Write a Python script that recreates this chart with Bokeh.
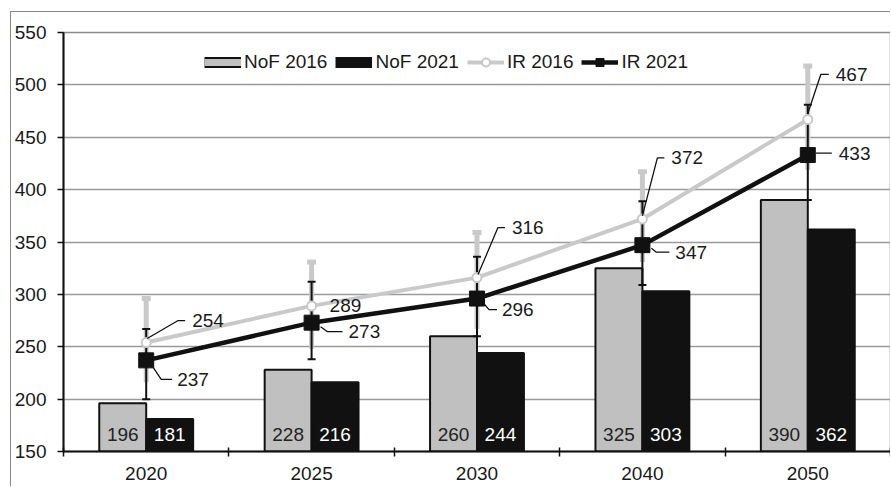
from bokeh.plotting import figure
from bokeh.models import Range1d, FixedTicker, Legend, LegendItem
from bokeh.core.properties import value
from bokeh.embed import file_html
from bokeh.resources import INLINE

# ---- data -------------------------------------------------------------
years = ["2020", "2025", "2030", "2040", "2050"]
nof_2016 = [196, 228, 260, 325, 390]
nof_2021 = [181, 216, 244, 303, 362]
ir_2016 = [254, 289, 316, 372, 467]
ir_2021 = [237, 273, 296, 347, 433]
ir_2016_hi = [296, 331, 359, 417, 518]
ir_2016_lo = [216, 248, 267, 331, 419]
ir_2021_hi = [267, 312, 336, 389, 481]
ir_2021_lo = [200, 238, 260, 309, 390]
y_ticks = [150, 200, 250, 300, 350, 400, 450, 500, 550]

# ---- layout constants ---------------------------------------------------
FONT = "Liberation Sans"
FS = "19px"
Y0, Y1 = 150, 550
FRAME_W, FRAME_H = 828, 419
PX_X = FRAME_W / len(years)      # pixels per category
PX_Y = FRAME_H / (Y1 - Y0)       # pixels per value unit
BAR_W = 47 / PX_X
GRAY = "#c0c0c0"
LGRAY = "#c9c9c9"
INK = "#111111"

centers = [i + 0.5 for i in range(len(years))]

# label placement (screen px relative to the point, y grows downward)
lab16 = [(46, -22), (18, 0), (35, -50), (29, -61), (28, -45)]
lead16 = [[(1, -4), (32, -22), (39, -22)], None,
          [(1, -3), (21, -50), (28, -50)],
          [(0, -3), (15, -61), (22, -61)],
          [(0, -6), (13, -45), (21, -45)]]
lab21 = [(31, 19), (37, 9), (25, 11), (33, 7), (31, -2)]
lead21 = [[(7, 7), (15, 19), (26, 19)],
          [(9, 4), (16, 9), (31, 9)],
          [(7, 5), (12, 11), (20, 11)],
          [(9, 3), (14, 7), (27, 7)],
          [(8, -2), (24, -2)]]


def to_data(cx, cy, dx, dy):
    return cx + dx / PX_X, cy - dy / PX_Y


p = figure(width=880, height=475,
           x_range=Range1d(0, len(years)), y_range=Range1d(Y0, Y1),
           output_backend="svg", toolbar_location=None,
           min_border_left=51, min_border_right=1,
           min_border_top=20, min_border_bottom=36)
p.styles = {"margin-left": "10px", "margin-top": "11px",
            "border-left": "1px solid #8a8a8a",
            "border-top": "1px solid #8a8a8a"}
p.background_fill_color = "white"
p.border_fill_color = "white"
p.outline_line_color = "#8a8a8a"
p.outline_line_width = 1.5

# axes
p.xaxis.ticker = FixedTicker(ticks=centers, minor_ticks=list(range(len(years) + 1)))
p.xaxis.major_label_overrides = {c: y for c, y in zip(centers, years)}
p.xaxis.major_tick_out = 0
p.xaxis.major_tick_in = 0
p.xaxis.minor_tick_out = 5
p.xaxis.minor_tick_in = 4
p.xaxis.minor_tick_line_color = INK
p.xaxis.minor_tick_line_width = 1.5
p.xaxis.major_label_standoff = 10
p.yaxis.ticker = FixedTicker(ticks=y_ticks)
p.yaxis.major_tick_out = 6
p.yaxis.major_tick_in = 0
p.yaxis.minor_tick_line_color = None
p.yaxis.major_label_standoff = 11
for ax in (p.xaxis, p.yaxis):
    ax.axis_line_color = INK
    ax.axis_line_width = 2
    ax.major_tick_line_color = INK
    ax.major_tick_line_width = 1.5
    ax.major_label_text_font = FONT
    ax.major_label_text_font_size = FS
    ax.major_label_text_color = "#1a1a1a"
p.xgrid.grid_line_color = None
p.ygrid.ticker = FixedTicker(ticks=y_ticks)
p.ygrid.grid_line_color = "#9a9a9a"
p.ygrid.grid_line_width = 1.5

# bars
x16 = [c - BAR_W / 2 for c in centers]
x21 = [c + BAR_W / 2 for c in centers]
p.vbar(x=x16, top=nof_2016, bottom=Y0, width=BAR_W, fill_color=GRAY,
       line_color=INK, line_width=2)
p.vbar(x=x21, top=nof_2021, bottom=Y0, width=BAR_W, fill_color=INK,
       line_color=INK, line_width=2)
ylab = Y0 + 17 / PX_Y
p.text(x=x16, y=[ylab] * len(years), text=[str(v) for v in nof_2016],
       text_font=value(FONT), text_font_size=FS, text_color="#222222",
       text_align="center", text_baseline="middle")
p.text(x=x21, y=[ylab] * len(years), text=[str(v) for v in nof_2021],
       text_font=value(FONT), text_font_size=FS, text_color="white",
       text_align="center", text_baseline="middle")

# error bars
cap16 = 9 / PX_X
cap21 = 8 / PX_X
p.segment(x0=centers, y0=ir_2016_lo, x1=centers, y1=ir_2016_hi,
          line_color=LGRAY, line_width=5)
p.segment(x0=[c - cap16 / 2 for c in centers], y0=ir_2016_hi,
          x1=[c + cap16 / 2 for c in centers], y1=ir_2016_hi,
          line_color=LGRAY, line_width=5)
p.segment(x0=centers, y0=ir_2021_lo, x1=centers, y1=ir_2021_hi,
          line_color=INK, line_width=2)
p.segment(x0=[c - cap21 / 2 for c in centers], y0=ir_2021_hi,
          x1=[c + cap21 / 2 for c in centers], y1=ir_2021_hi,
          line_color=INK, line_width=2)
p.segment(x0=[c - cap21 / 2 for c in centers], y0=ir_2021_lo,
          x1=[c + cap21 / 2 for c in centers], y1=ir_2021_lo,
          line_color=INK, line_width=2)

# lines
l16 = p.line(centers, ir_2016, line_color=LGRAY, line_width=4)
m16 = p.scatter(centers, ir_2016, marker="circle", size=9,
                fill_color="white", line_color=LGRAY, line_width=2)
l21 = p.line(centers, ir_2021, line_color=INK, line_width=4.5)
m21 = p.scatter(centers, ir_2021, marker="square", size=15,
                fill_color=INK, line_color=INK)

# value labels with leader lines
lx, ly, lt = [], [], []
mxs, mys = [], []
for series, labs, leads in ((ir_2016, lab16, lead16), (ir_2021, lab21, lead21)):
    for c, v, (dx, dy), lead in zip(centers, series, labs, leads):
        tx, ty = to_data(c, v, dx, dy)
        lx.append(tx)
        ly.append(ty)
        lt.append(str(v))
        if lead:
            pts = [to_data(c, v, a, b) for a, b in lead]
            mxs.append([q[0] for q in pts])
            mys.append([q[1] for q in pts])
p.multi_line(mxs, mys, line_color=INK, line_width=1.3)
p.text(x=lx, y=ly, text=lt, text_font=value(FONT), text_font_size=FS,
       text_color="#1a1a1a", text_align="left", text_baseline="middle")

# legend swatches for the bar series (kept outside the visible ranges)
off_x, off_y = [-3, -2], [0, 0]
sw_out = p.line(x=off_x, y=off_y, line_color=INK, line_width=11)
sw_in = p.line(x=off_x, y=off_y, line_color=GRAY, line_width=7)
sw_blk = p.line(x=off_x, y=off_y, line_color=INK, line_width=11)

legend = Legend(items=[
    LegendItem(label="NoF 2016", renderers=[sw_out, sw_in]),
    LegendItem(label="NoF 2021", renderers=[sw_blk]),
    LegendItem(label="IR 2016", renderers=[l16, m16]),
    LegendItem(label="IR 2021", renderers=[l21, m21]),
], orientation="horizontal", location=(141, 378),
    glyph_width=37, glyph_height=20, label_standoff=3, spacing=8,
    padding=0, margin=0, border_line_color=None, background_fill_alpha=0,
    label_text_font=FONT, label_text_font_size=FS, label_text_color="#1a1a1a")
p.add_layout(legend)

open("out.html", "w").write(file_html(p, INLINE))
